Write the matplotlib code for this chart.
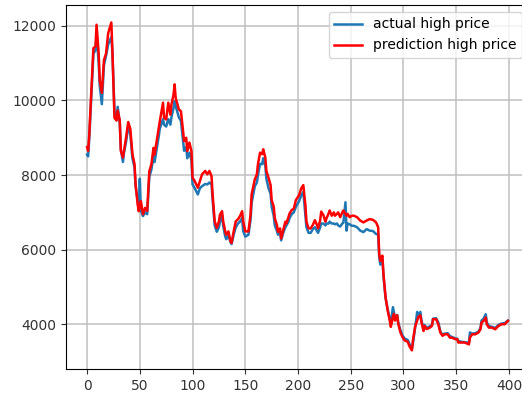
import matplotlib
matplotlib.use("Agg")
import matplotlib.pyplot as plt

# day index (sampled where the curve changes)
days = [0, 1, 2, 4, 6, 8, 9, 11, 12, 14, 16, 18, 20, 23, 24, 26, 28, 29, 31, 32,
        34, 35, 37, 39, 41, 43, 45, 46, 48, 49, 50, 51, 53, 55, 57, 59, 61, 63, 64, 66,
        68, 69, 72, 73, 75, 77, 79, 80, 82, 83, 84, 87, 89, 91, 92, 94, 95, 97, 99, 100,
        102, 105, 107, 109, 112, 114, 116, 118, 119, 121, 123, 125, 126, 128, 129, 131, 132, 134, 136, 137,
        139, 141, 143, 145, 147, 148, 150, 153, 155, 156, 158, 159, 161, 162, 164, 166, 167, 169, 170, 172,
        174, 175, 177, 178, 180, 181, 183, 184, 186, 188, 189, 191, 192, 194, 196, 198, 200, 201, 203, 205,
        207, 208, 210, 212, 214, 216, 218, 219, 221, 222, 224, 226, 227, 229, 230, 232, 234, 235, 237, 238,
        240, 242, 243, 245, 246, 247, 249, 251, 253, 256, 259, 262, 265, 268, 271, 274, 276, 277, 278, 280,
        281, 283, 285, 287, 288, 290, 291, 292, 294, 295, 297, 299, 301, 304, 306, 308, 309, 311, 313, 314,
        316, 317, 319, 320, 322, 325, 327, 328, 331, 333, 335, 337, 339, 342, 344, 346, 349, 351, 352, 355,
        358, 362, 363, 365, 368, 371, 373, 374, 376, 378, 379, 381, 384, 387, 390, 393, 396, 399]

actual = [8550, 8500, 8950, 10100, 11250, 11350, 11800, 11000, 10400, 9900, 10950, 11200, 11500, 11700, 11300, 9700, 9500, 9830, 9400, 8700,
          8350, 8600, 8900, 9300, 9100, 8450, 8200, 7700, 7300, 7050, 7900, 7050, 6900, 7000, 6950, 7950, 8150, 8500, 8350, 8700,
          9050, 9250, 9500, 9350, 9300, 9500, 9350, 9550, 9800, 9980, 9850, 9550, 9450, 8900, 8650, 8750, 8450, 8600, 8400, 7750,
          7650, 7480, 7650, 7700, 7760, 7750, 7800, 7750, 7350, 6650, 6480, 6600, 6750, 6900, 6650, 6350, 6280, 6380, 6200, 6150,
          6400, 6600, 6700, 6750, 6850, 6500, 6350, 6400, 6800, 7250, 7550, 7700, 7800, 8000, 8300, 8290, 8450, 8250, 7900, 7650,
          7500, 7150, 6900, 6650, 6500, 6400, 6450, 6250, 6450, 6600, 6650, 6750, 6850, 6950, 7000, 7150, 7250, 7300, 7450, 7550,
          6900, 6600, 6450, 6450, 6550, 6600, 6500, 6450, 6600, 6700, 6700, 6650, 6700, 6700, 6750, 6700, 6700, 6680, 6700, 6650,
          6620, 6700, 6720, 7270, 6510, 6700, 6680, 6640, 6640, 6600, 6510, 6470, 6550, 6510, 6500, 6420, 6400, 5800, 5600, 5750,
          5300, 4700, 4400, 4150, 4000, 4460, 4300, 4150, 4250, 4050, 3850, 3700, 3620, 3580, 3450, 3350, 3500, 3900, 4330, 4200,
          4330, 4100, 3900, 3980, 3900, 3950, 3980, 4150, 4160, 4050, 3800, 3720, 3750, 3760, 3680, 3660, 3620, 3610, 3550, 3530,
          3520, 3500, 3780, 3750, 3760, 3800, 3900, 4100, 4150, 4270, 4050, 3950, 3930, 3900, 3980, 4020, 4030, 4100]

predicted = [8750, 8650, 9050, 10200, 11400, 11450, 12030, 11260, 10540, 10200, 11080, 11260, 11800, 12090, 11350, 9530, 9460, 9730, 9460, 8650,
             8470, 8650, 9010, 9420, 9240, 8560, 8290, 7750, 7210, 7030, 7150, 7300, 6950, 7120, 7040, 8100, 8290, 8730, 8550, 8910,
             9270, 9450, 9940, 9540, 9490, 9940, 9620, 9890, 10160, 10430, 10070, 9760, 9710, 9180, 8910, 9000, 8640, 8870, 8640, 7930,
             7840, 7660, 7840, 8020, 8110, 8020, 8110, 7970, 7480, 6760, 6580, 6760, 6940, 7030, 6760, 6490, 6400, 6490, 6220, 6180,
             6490, 6760, 6810, 6900, 7030, 6760, 6490, 6490, 6940, 7480, 7750, 7880, 8020, 8290, 8600, 8560, 8690, 8470, 8110, 7930,
             7730, 7330, 7150, 6840, 6660, 6480, 6570, 6300, 6530, 6750, 6700, 6880, 6970, 7060, 7100, 7330, 7420, 7460, 7640, 7730,
             7190, 6750, 6570, 6570, 6660, 6790, 6660, 6570, 6790, 7020, 6930, 6750, 6840, 6970, 7050, 6910, 7000, 6910, 6960, 7000,
             6870, 7000, 7050, 6960, 6910, 6960, 6870, 6910, 6910, 6870, 6780, 6730, 6780, 6820, 6800, 6730, 6600, 5880, 5700, 5840,
             5350, 4730, 4370, 4100, 3930, 4190, 4280, 4100, 4240, 4020, 3790, 3660, 3570, 3530, 3390, 3300, 3570, 3930, 4100, 4190,
             4240, 4060, 3820, 3955, 3870, 3910, 3955, 4135, 4135, 4000, 3775, 3690, 3730, 3730, 3640, 3640, 3600, 3600, 3510, 3510,
             3510, 3460, 3640, 3730, 3730, 3775, 3865, 4045, 4090, 4180, 4000, 3910, 3910, 3865, 3955, 4000, 4000, 4090]

fig = plt.figure(figsize=(5.22, 3.97), dpi=100)
ax = fig.add_axes([0.1264, 0.0705, 0.887, 0.917])

ax.plot(days, actual, color="#1f77b4", lw=1.8, label="actual high price")
ax.plot(days, predicted, color="red", lw=1.8, label="prediction high price")

ax.set_xticks([0, 50, 100, 150, 200, 250, 300, 350, 400])
ax.set_yticks([4000, 6000, 8000, 10000, 12000])
ax.set_xlim(-20, 419)
ax.set_ylim(2800, 12560)
ax.grid(True, color="#c0c0c0", lw=1.1)
ax.tick_params(labelsize=10, colors="#333333")
ax.legend(loc="upper right", fontsize=10)

fig.savefig("out.png", dpi=100)
